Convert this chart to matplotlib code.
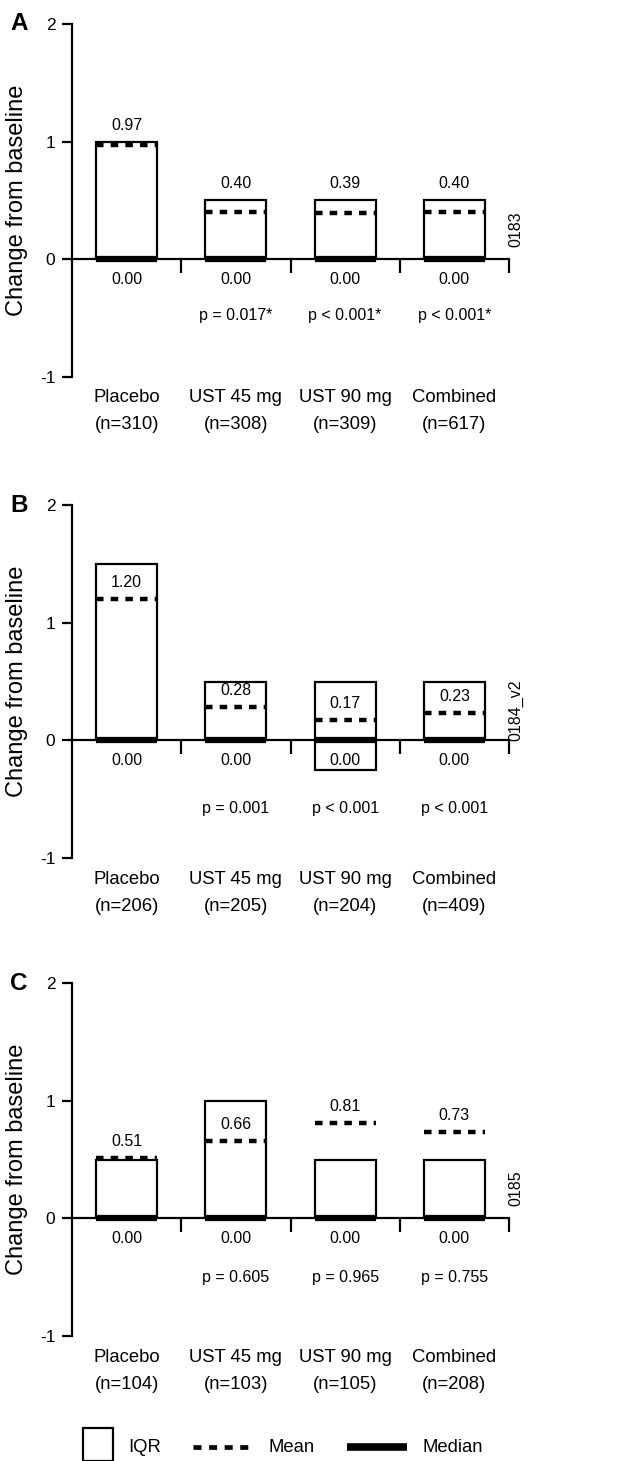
import matplotlib
matplotlib.use("Agg")
import matplotlib.pyplot as plt
from matplotlib.patches import Rectangle
import numpy as np

plt.rcParams['font.family'] = ['Liberation Sans', 'DejaVu Sans']

# ---------------- data ----------------
groups = ["Placebo", "UST 45 mg", "UST 90 mg", "Combined"]

n_a = [310, 308, 309, 617]
q1_a = [0.0, 0.0, 0.0, 0.0]
q3_a = [1.0, 0.5, 0.5, 0.5]
mean_a = [0.97, 0.40, 0.39, 0.40]
median_a = [0.0, 0.0, 0.0, 0.0]
p_a = ["", "p = 0.017*", "p < 0.001*", "p < 0.001*"]

n_b = [206, 205, 204, 409]
q1_b = [0.0, 0.0, -0.25, 0.0]
q3_b = [1.5, 0.5, 0.5, 0.5]
mean_b = [1.20, 0.28, 0.17, 0.23]
median_b = [0.0, 0.0, 0.0, 0.0]
p_b = ["", "p = 0.001", "p < 0.001", "p < 0.001"]

n_c = [104, 103, 105, 208]
q1_c = [0.0, 0.0, 0.0, 0.0]
q3_c = [0.5, 1.0, 0.5, 0.5]
mean_c = [0.51, 0.66, 0.81, 0.73]
median_c = [0.0, 0.0, 0.0, 0.0]
p_c = ["", "p = 0.605", "p = 0.965", "p = 0.755"]

panel_letters = ["A", "B", "C"]
panel_codes = ["0183", "0184_v2", "0185"]
yticks = [-1, 0, 1, 2]

panels = [
    dict(n=n_a, q1=q1_a, q3=q3_a, mean=mean_a, median=median_a, p=p_a, label_above_box=True, p_y=-0.48),
    dict(n=n_b, q1=q1_b, q3=q3_b, mean=mean_b, median=median_b, p=p_b, label_above_box=False, p_y=-0.58),
    dict(n=n_c, q1=q1_c, q3=q3_c, mean=mean_c, median=median_c, p=p_c, label_above_box=False, p_y=-0.50),
]

# ---------------- layout ----------------
W, H = 637, 1461
fig = plt.figure(figsize=(W / 100, H / 100), dpi=100)

ax_left_px, ax_right_px = 72, 509
tops_px = [24, 505, 983]
bottoms_px = [376.7, 858, 1336]

bar_w = 0.56
dash = (0, (1.7, 1.6))
val_fs = 11.5

for i, pan in enumerate(panels):
    top, bot = tops_px[i], bottoms_px[i]
    ax = fig.add_axes([ax_left_px / W, 1 - bot / H,
                       (ax_right_px - ax_left_px) / W, (bot - top) / H])
    x = np.arange(len(groups))
    ax.set_xlim(-0.5, len(groups) - 0.5)
    ax.set_ylim(-1, 2)

    q1 = np.array(pan["q1"]); q3 = np.array(pan["q3"])
    ax.bar(x, q3 - q1, bottom=q1, width=bar_w, facecolor="white",
           edgecolor="black", linewidth=1.6, zorder=2)
    for xi, m, md, a, b in zip(x, pan["mean"], pan["median"], q1, q3):
        ax.plot([xi - bar_w / 2, xi + bar_w / 2], [m, m], color="black",
                linewidth=3.2, linestyle=dash, solid_capstyle="butt",
                dash_capstyle="butt", zorder=3)
        ax.plot([xi - bar_w / 2, xi + bar_w / 2], [md, md], color="black",
                linewidth=4.5, solid_capstyle="butt", zorder=4)
        ly = (max(b, m) if pan["label_above_box"] else m) + 0.14
        ax.text(xi, ly, f"{m:.2f}", ha="center", va="center", fontsize=val_fs, zorder=5)
        ax.text(xi, md - 0.17, f"{md:.2f}", ha="center", va="center", fontsize=val_fs, zorder=5)

    for xi, pv in zip(x, pan["p"]):
        if pv:
            ax.text(xi, pan["p_y"], pv, ha="center", va="center", fontsize=val_fs)
    for xi, g, nn in zip(x, groups, pan["n"]):
        ax.text(xi, -1.18, g, ha="center", va="center", fontsize=13.3, clip_on=False)
        ax.text(xi, -1.41, f"(n={nn})", ha="center", va="center", fontsize=13.3, clip_on=False)

    # axes styling
    for s in ["top", "right"]:
        ax.spines[s].set_visible(False)
    ax.spines["bottom"].set_position(("data", 0))
    ax.spines["bottom"].set_linewidth(1.6)
    ax.spines["left"].set_linewidth(1.6)
    ax.spines["bottom"].set_zorder(1)
    ax.set_xticks(np.arange(len(groups)) + 0.5)
    ax.set_xticklabels([])
    ax.tick_params(axis="x", direction="out", length=10, width=1.6)
    ax.set_yticks(yticks)
    ax.set_yticklabels([str(t) for t in yticks], fontsize=12.5)
    ax.tick_params(axis="y", direction="out", length=7, width=1.6, pad=5)
    ax.patch.set_alpha(0)

    # y label
    yc = top + (bot - top) / 2
    fig.text(17 / W, 1 - yc / H, "Change from baseline", rotation=90,
             ha="center", va="center", fontsize=17)
    # panel letter
    fig.text(19 / W, 1 - top / H, panel_letters[i], ha="center", va="center",
             fontsize=17.5, fontweight="bold")
    # code
    zero_px = top + (bot - top) * 2 / 3
    fig.text(516 / W, 1 - (zero_px - 30) / H, panel_codes[i], rotation=90,
             ha="center", va="center", fontsize=11.5)

# ---------------- legend ----------------
lax = fig.add_axes([0, 0, 1, 70 / H])
lax.set_xlim(0, W)
lax.set_ylim(H, H - 70)
lax.axis("off")
lax.add_patch(Rectangle((83, 1428), 30, 33, facecolor="white", edgecolor="black",
                        linewidth=1.6, clip_on=False))
lax.text(128, 1447, "IQR", ha="left", va="center", fontsize=13.3)
lax.plot([193, 252], [1447, 1447], color="black", linewidth=3.4, linestyle=dash)
lax.text(269, 1447, "Mean", ha="left", va="center", fontsize=13.3)
lax.plot([347, 407], [1447, 1447], color="black", linewidth=5.5, solid_capstyle="butt")
lax.text(423, 1447, "Median", ha="left", va="center", fontsize=13.3)

fig.savefig("out.png", dpi=100)
